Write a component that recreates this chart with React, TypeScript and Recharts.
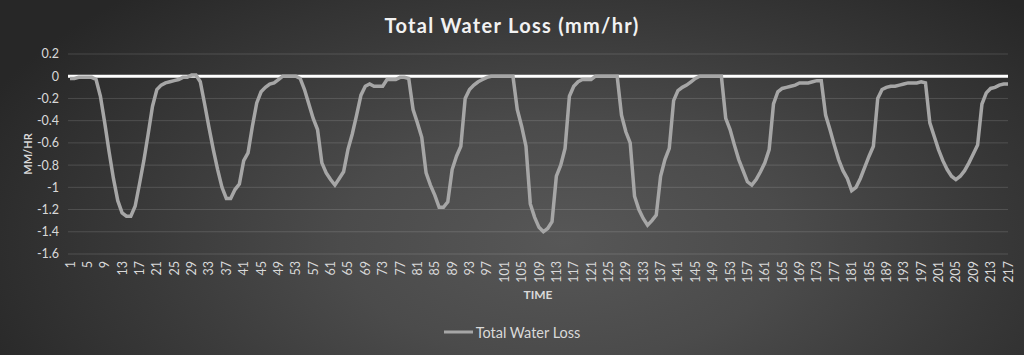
import React from 'react';
import { LineChart, Line, XAxis, YAxis, CartesianGrid, Legend } from 'recharts';

const seriesName = 'Total Water Loss';
const chartTitle = 'Total Water Loss (mm/hr)';
const yAxisTitle = 'MM/HR';
const xAxisTitle = 'TIME';
const yTicks = [-1.6, -1.4, -1.2, -1, -0.8, -0.6, -0.4, -0.2, 0, 0.2];

const lossValues = [
  -0.02, -0.02, -0.01, -0.01, -0.01, -0.01, -0.03, -0.18, -0.42, -0.68,
  -0.92, -1.12, -1.23, -1.26, -1.26, -1.17, -0.97, -0.76, -0.52, -0.27,
  -0.12, -0.08, -0.06, -0.05, -0.04, -0.03, -0.01, -0.01, 0.01, 0.01,
  -0.05, -0.25, -0.46, -0.66, -0.84, -1.0, -1.1, -1.1, -1.02, -0.97,
  -0.76, -0.69, -0.45, -0.24, -0.14, -0.1, -0.07, -0.06, -0.03, 0,
  0, 0, 0, -0.02, -0.12, -0.25, -0.38, -0.48, -0.78, -0.87,
  -0.93, -0.98, -0.92, -0.86, -0.66, -0.52, -0.35, -0.17, -0.09, -0.07,
  -0.09, -0.09, -0.09, -0.03, -0.03, -0.03, -0.01, -0.01, -0.02, -0.3,
  -0.42, -0.55, -0.87, -0.98, -1.07, -1.18, -1.18, -1.13, -0.84, -0.72,
  -0.63, -0.2, -0.12, -0.08, -0.05, -0.03, -0.01, 0, 0, 0,
  0, 0, 0, -0.3, -0.45, -0.63, -1.15, -1.27, -1.36, -1.4,
  -1.37, -1.31, -0.9, -0.8, -0.65, -0.18, -0.09, -0.05, -0.03, -0.03,
  -0.03, 0, 0, 0, 0, 0, 0, -0.35, -0.5, -0.6,
  -1.08, -1.2, -1.28, -1.34, -1.3, -1.25, -0.9, -0.75, -0.65, -0.22,
  -0.13, -0.1, -0.08, -0.05, -0.02, 0, 0, 0, 0, 0,
  0, -0.38, -0.48, -0.62, -0.75, -0.85, -0.95, -0.98, -0.93, -0.86,
  -0.78, -0.66, -0.25, -0.14, -0.11, -0.1, -0.09, -0.08, -0.06, -0.06,
  -0.06, -0.05, -0.04, -0.04, -0.35, -0.48, -0.62, -0.75, -0.85, -0.92,
  -1.03, -1.0, -0.92, -0.82, -0.72, -0.63, -0.2, -0.12, -0.1, -0.09,
  -0.09, -0.08, -0.07, -0.06, -0.06, -0.06, -0.05, -0.06, -0.42, -0.54,
  -0.66, -0.76, -0.84, -0.9, -0.93, -0.9, -0.85, -0.78, -0.7, -0.62,
  -0.25, -0.15, -0.11, -0.1, -0.08, -0.07, -0.07,
];

const timeSteps = lossValues.map((_, i) => i + 1);

const data = timeSteps.map((t, i) => ({ time: t, loss: lossValues[i] }));

const FONT = 'Lato, "Open Sans", sans-serif';
const TEXT = '#d9d9d9';
const LINE = '#a6a6a6';
const GRID = 'rgba(255,255,255,0.14)';

const XTick = (props: any) => {
  const { x, payload } = props;
  const y = 261;
  return (
    <text
      x={x}
      y={y}
      transform={`rotate(-90, ${x}, ${y})`}
      textAnchor="end"
      dominantBaseline="central"
      fill={TEXT}
      fontSize={12.5}
      fontFamily={FONT}
    >
      {payload.value}
    </text>
  );
};

const GridLine = (props: any) => {
  const { x1, y1, x2, y2, index } = props;
  const isZero = yTicks[index] === 0;
  return (
    <line
      x1={x1}
      y1={y1}
      x2={x2}
      y2={y2}
      stroke={isZero ? '#ffffff' : GRID}
      strokeWidth={isZero ? 3 : 1}
    />
  );
};

const LegendContent = () => (
  <div
    style={{
      display: 'flex',
      justifyContent: 'center',
      alignItems: 'center',
      height: 30,
      paddingLeft: 8,
      fontFamily: FONT,
      fontSize: 14.5,
      color: TEXT,
    }}
  >
    <svg width={30} height={10} style={{ marginRight: 2 }}>
      <line x1={0} y1={5} x2={29} y2={5} stroke={LINE} strokeWidth={3} />
    </svg>
    <span>{seriesName}</span>
  </div>
);

export default function App() {
  return (
    <div
      style={{
        position: 'absolute',
        left: 0,
        top: 0,
        width: 1024,
        height: 355,
        overflow: 'hidden',
        background:
          'radial-gradient(ellipse 62% 95% at 55% 68%, #575757 0%, #4b4b4b 35%, #3a3a3a 65%, #272727 100%)',
        fontFamily: FONT,
      }}
    >
      <div
        style={{
          position: 'absolute',
          top: 11,
          left: 0,
          width: 1024,
          textAlign: 'center',
          color: '#f2f2f2',
          fontSize: 20,
          fontWeight: 700,
          letterSpacing: 1.3,
          lineHeight: '28px',
        }}
      >
        {chartTitle}
      </div>
      <LineChart
        width={1024}
        height={355}
        data={data}
        margin={{ top: 54, right: 16, left: 8, bottom: 8 }}
      >
        <CartesianGrid vertical={false} horizontal={<GridLine />} />
        <XAxis
          dataKey="time"
          interval={3}
          tickLine={false}
          axisLine={false}
          height={63}
          padding={{ left: 2, right: 0 }}
          tick={<XTick />}
          label={{
            value: xAxisTitle,
            position: 'insideBottom',
            offset: 18,
            fill: TEXT,
            fontSize: 12,
            fontWeight: 700,
            fontFamily: FONT,
          }}
        />
        <YAxis
          domain={[-1.6, 0.2]}
          ticks={yTicks}
          interval={0}
          width={60}
          tickLine={false}
          axisLine={false}
          tickMargin={3}
          tick={{ fill: TEXT, fontSize: 12.5, fontFamily: FONT }}
          label={{
            value: yAxisTitle,
            angle: -90,
            position: 'insideLeft',
            offset: 20,
            fill: TEXT,
            fontSize: 11,
            fontWeight: 700,
            fontFamily: FONT,
            style: { textAnchor: 'middle' },
          }}
        />
        <Line
          type="linear"
          dataKey="loss"
          name={seriesName}
          stroke={LINE}
          strokeWidth={3.5}
          dot={false}
          activeDot={false}
          isAnimationActive={false}
        />
        <Legend verticalAlign="bottom" height={30} content={<LegendContent />} />
      </LineChart>
    </div>
  );
}
